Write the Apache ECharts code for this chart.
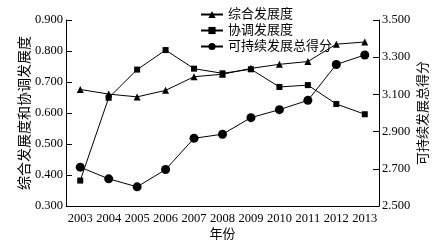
<!DOCTYPE html>
<html><head><meta charset="utf-8">
<script src="https://cdn.jsdelivr.net/npm/echarts@6/dist/echarts.min.js"></script>
<style>html,body{margin:0;padding:0;background:#fff}#c{width:446px;height:246px}</style>
</head><body><div id="c"></div>
<script>
const years = ['2003','2004','2005','2006','2007','2008','2009','2010','2011','2012','2013'];
const zonghe = [0.676, 0.661, 0.652, 0.673, 0.717, 0.725, 0.744, 0.757, 0.766, 0.822, 0.829];
const xietiao = [0.382, 0.649, 0.740, 0.803, 0.743, 0.728, 0.741, 0.684, 0.690, 0.629, 0.596];
const kechixu = [2.709, 2.646, 2.603, 2.696, 2.864, 2.886, 2.975, 3.018, 3.068, 3.261, 3.312];
const names = ['综合发展度','协调发展度','可持续发展总得分'];
const leftAxisName = '综合发展度和协调发展度';
const rightAxisName = '可持续发展总得分';
const xAxisName = '年份';

const FF = "'Liberation Serif', 'Noto Sans CJK SC', serif";
const chart = echarts.init(document.getElementById('c'), null, {renderer:'canvas'});
const lineStyle = {color:'#000', width:1};
chart.setOption({
  animation:false,
  textStyle:{fontFamily:FF, color:'#000'},
  grid:{left:66, right:67, top:20, bottom:39, containLabel:false},
  legend:{
    orient:'vertical', left:195, top:3, itemWidth:22, itemHeight:9, itemGap:3,
    textStyle:{fontFamily:FF, fontSize:13, color:'#000'},
    data:names
  },
  xAxis:{
    type:'category', data:years, boundaryGap:true,
    name:xAxisName, nameLocation:'middle', nameGap:22, nameMoveOverlap:false,
    nameTextStyle:{fontFamily:FF, fontSize:13, color:'#000'},
    axisLine:{lineStyle:{color:'#000', width:1}},
    axisTick:{alignWithLabel:true, inside:true, length:6, lineStyle:{color:'#000'}},
    axisLabel:{fontFamily:FF, fontSize:12.5, color:'#000', margin:6, interval:0}
  },
  yAxis:[{
    type:'value', min:0.3, max:0.9, interval:0.1, position:'left',
    name:leftAxisName, nameLocation:'middle', nameGap:34, nameMoveOverlap:false,
    nameTextStyle:{fontFamily:FF, fontSize:14, color:'#000'},
    axisLine:{show:true, lineStyle:{color:'#000', width:1}},
    axisTick:{show:true, inside:true, length:6, lineStyle:{color:'#000'}},
    splitLine:{show:false},
    axisLabel:{fontFamily:FF, fontSize:12.5, color:'#000', margin:3, formatter:v=>v.toFixed(3)}
  },{
    type:'value', min:2.5, max:3.5, interval:0.2, position:'right',
    name:rightAxisName, nameLocation:'middle', nameGap:38, nameRotate:90, nameMoveOverlap:false,
    nameTextStyle:{fontFamily:FF, fontSize:13, color:'#000'},
    axisLine:{show:true, lineStyle:{color:'#000', width:1}},
    axisTick:{show:true, inside:true, length:6, lineStyle:{color:'#000'}},
    splitLine:{show:false},
    axisLabel:{fontFamily:FF, fontSize:12.5, color:'#000', margin:3, formatter:v=>v.toFixed(3)}
  }],
  series:[
    {name:names[0], type:'line', yAxisIndex:0, data:zonghe, symbol:'triangle', symbolSize:7,
     showAllSymbol:true, lineStyle, itemStyle:{color:'#000'}},
    {name:names[1], type:'line', yAxisIndex:0, data:xietiao, symbol:'rect', symbolSize:6,
     showAllSymbol:true, lineStyle, itemStyle:{color:'#000'}},
    {name:names[2], type:'line', yAxisIndex:1, data:kechixu, symbol:'circle', symbolSize:9,
     showAllSymbol:true, lineStyle, itemStyle:{color:'#000'}}
  ]
});
</script></body></html>
